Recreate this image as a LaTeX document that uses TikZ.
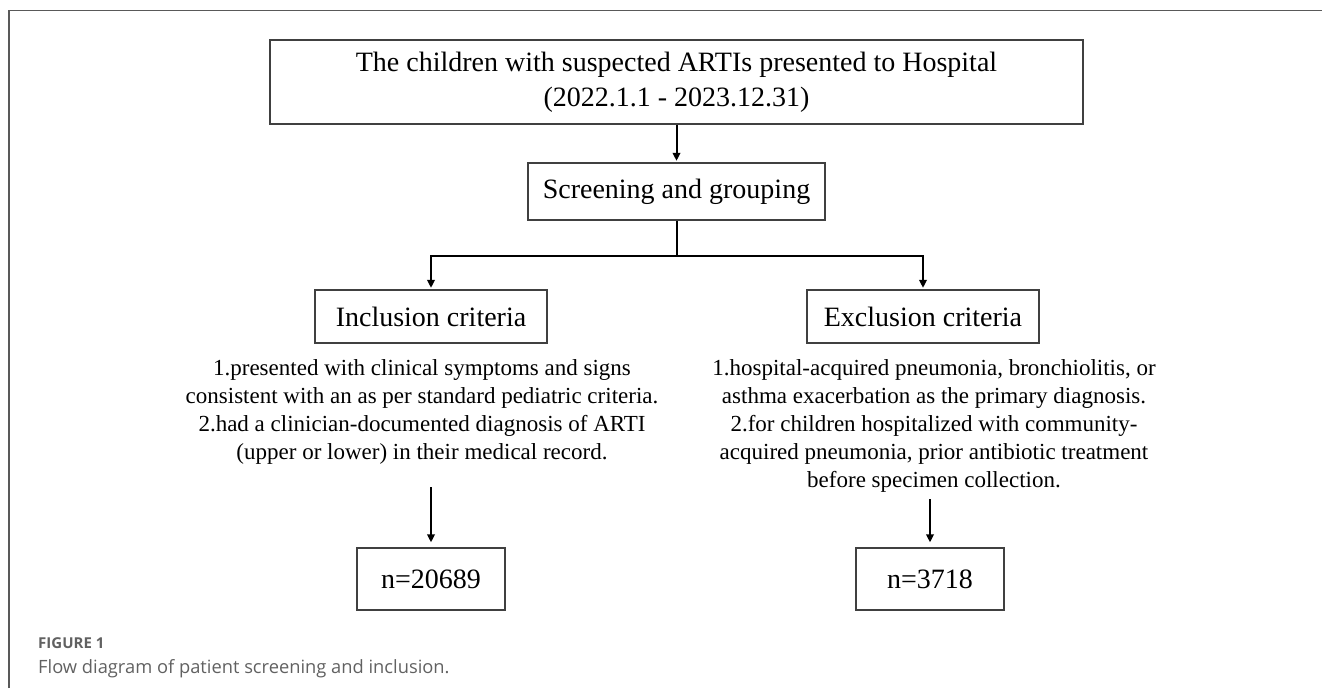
\documentclass[tikz,border=0pt]{standalone}
\usepackage{fontspec}
\setmainfont{Liberation Serif}
\newfontfamily\capfont{Open Sans}
\usetikzlibrary{arrows.meta,positioning}

\begin{document}
\begin{tikzpicture}[x=1pt, y=-1pt,
    box/.style={draw=black!75, line width=1.3pt, inner sep=0pt, align=center,
      font=\fontsize{28}{35}\selectfont},
    crit/.style={align=center, inner sep=0pt, anchor=north, font=\fontsize{23}{28}\selectfont},
    link/.style={line width=2pt},
    flow/.style={link, -{Triangle[length=8pt, width=7.5pt]}}
  ]
    \useasboundingbox (0,0) rectangle (1322,688);
    \draw[black!65, line width=1.5pt] (9,688) -- (9,10.5) -- (1322,10.5);

    % boxes
    \node[box, minimum width=813pt, minimum height=84pt] (source) at (676.5,82)
      {The children with suspected ARTIs presented to Hospital\\(2022.1.1 - 2023.12.31)};
    \node[box, minimum width=297pt, minimum height=57pt] (screen) at (676.5,191.5) {Screening and grouping};
    \node[box, minimum width=232pt, minimum height=53pt] (incl) at (431,316.5) {Inclusion criteria};
    \node[box, minimum width=232pt, minimum height=53pt] (excl) at (923,316.5) {Exclusion criteria};
    \node[crit] (inclText) at (422,359.5)
      {1.presented with clinical symptoms and signs\\
       consistent with an as per standard pediatric criteria.\\
       2.had a clinician-documented diagnosis of ARTI\\
       (upper or lower) in their medical record.};
    \node[crit] (exclText) at (934,359.5)
      {1.hospital-acquired pneumonia, bronchiolitis, or\\
       asthma exacerbation as the primary diagnosis.\\
       2.for children hospitalized with community-\\
       acquired pneumonia, prior antibiotic treatment\\
       before specimen collection.};
    \node[box, minimum width=148pt, minimum height=62pt] (inclN) at (431,579) {n=20689};
    \node[box, minimum width=148pt, minimum height=62pt] (exclN) at (930,579) {n=3718};

    % connectors
    \draw[flow, shorten >=1.5pt] (source) -- (screen);
    \draw[link] (screen.south) -- ++(0,35) coordinate (split);
    \draw[flow, shorten >=1.5pt] (split) -| (incl.north);
    \draw[flow, shorten >=1.5pt] (split) -| (excl.north);
    \draw[flow, shorten >=5pt] ([yshift=60pt]inclN.north) -- (inclN.north);
    \draw[flow, shorten >=5pt] ([yshift=48pt]exclN.north) -- (exclN.north);

    % caption
    \node[anchor=base west, inner sep=0pt, text=black!62, font=\capfont\bfseries\fontsize{15}{18}\selectfont]
      (figNo) at (38,648) {FIGURE 1};
    \node[anchor=base west, inner sep=0pt, text=black!62, font=\capfont\fontsize{18.3}{22}\selectfont]
      (figCap) at (38,673) {Flow diagram of patient screening and inclusion.};
\end{tikzpicture}
\end{document}
